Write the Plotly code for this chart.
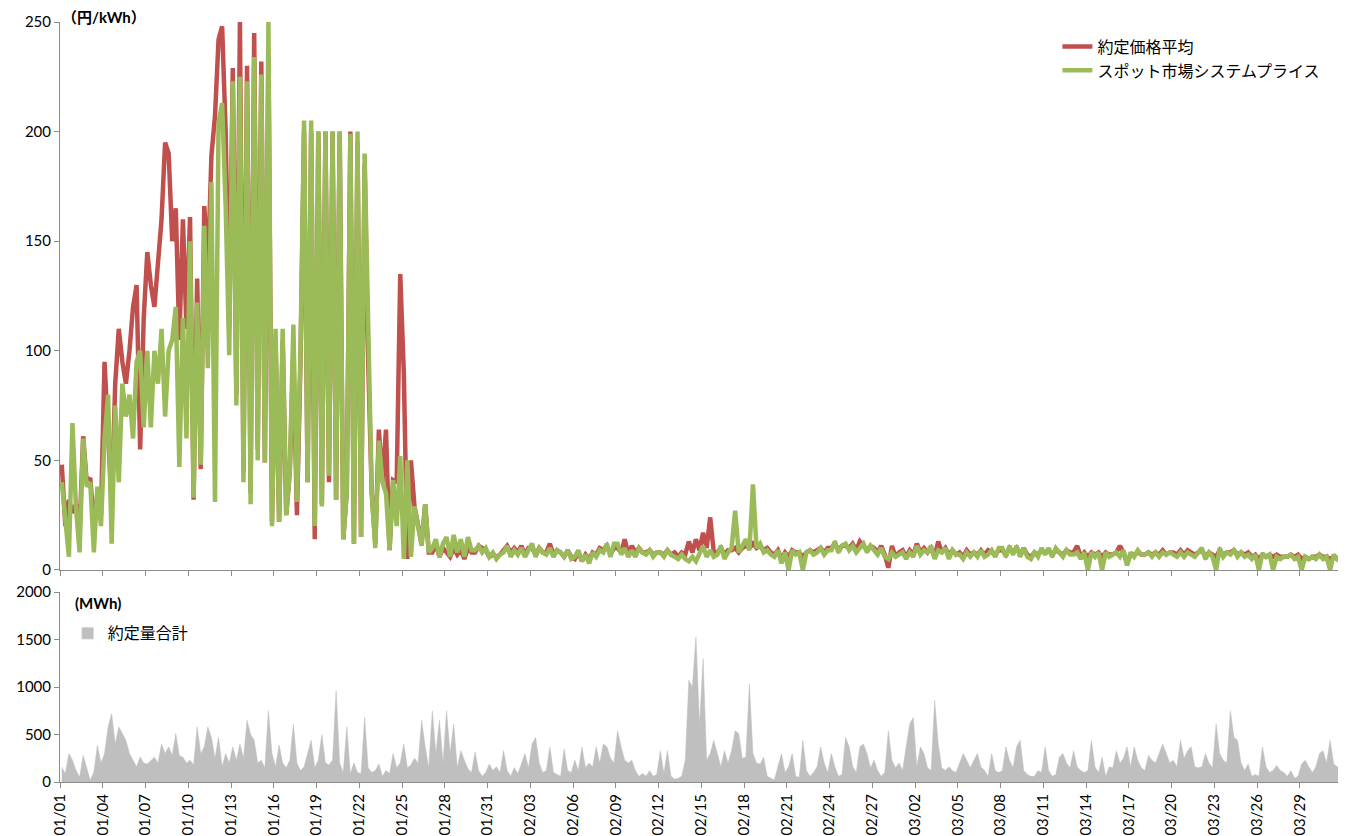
import pandas as pd
import plotly.graph_objects as go
from plotly.subplots import make_subplots

# 4 lectures par jour (0h, 6h, 12h, 18h), 2021-01-01 .. 2021-03-31
price_avg_jan = [
    48, 20, 32, 26,  30, 18, 61, 40,  42, 20, 35, 25,  95, 60, 30, 85,
    110, 95, 85, 100,  120, 130, 55, 115,  145, 130, 120, 140,  160, 195, 190, 150,
    165, 105, 160, 110,  161, 32, 133, 46,  166, 136, 189, 207,  242, 248, 200, 110,
    229, 80, 250, 45,  230, 35, 245, 55,  232, 49, 235, 22,  105, 22, 105, 25,
    45, 100, 25, 95,  200, 40, 200, 14,  200, 30, 200, 40,  200, 32, 200, 14,
    36, 200, 12, 195,  15, 185, 95, 35,  12, 64, 40, 64,  9, 41, 40, 135,
    90, 5, 50, 29,  20, 12, 30, 8,  8, 12, 6, 10,  8, 6, 10, 7,
    9, 5, 10, 8,  8, 11, 10, 9,  6, 7, 6, 7,
]
price_avg_feb = [
    9, 11, 8, 10,  8, 11, 7, 10,  10, 7, 10, 8,  8, 12, 7, 9,
    8, 6, 9, 6,  5, 8, 4, 7,  5, 8, 7, 10,  9, 11, 7, 10,
    10, 8, 14, 7,  11, 8, 10, 8,  8, 9, 7, 8,  8, 7, 9, 7,
    8, 6, 8, 7,  13, 8, 14, 9,  17, 10, 24, 8,  8, 10, 7, 9,
    9, 10, 8, 10,  11, 10, 12, 10,  11, 9, 10, 8,  7, 9, 5, 8,
    6, 9, 8, 8,  6, 8, 9, 8,  9, 10, 8, 10,  10, 12, 9, 11,
    11, 10, 12, 9,  13, 11, 9, 11,  10, 8, 11, 7,  1, 11, 6, 8,
]
price_avg_mar = [
    9, 6, 9, 7,  12, 8, 10, 8,  10, 6, 13, 8,  10, 7, 9, 7,
    8, 6, 9, 7,  8, 7, 9, 7,  9, 8, 7, 9,  9, 7, 10, 8,
    10, 7, 10, 7,  6, 8, 7, 9,  8, 9, 7, 9,  8, 7, 9, 8,
    8, 11, 6, 8,  6, 8, 7, 8,  6, 8, 7, 7,  8, 11, 8, 3,
    7, 7, 8, 7,  7, 8, 7, 8,  7, 9, 7, 8,  8, 7, 9, 7,
    9, 8, 7, 8,  9, 6, 8, 7,  6, 9, 7, 8,  8, 9, 7, 8,
    7, 8, 6, 7,  5, 7, 6, 7,  6, 7, 6, 6,  6, 7, 6, 7,
    5, 6, 5, 6,  6, 7, 6, 6,  5, 6, 5, 6,
]

spot_jan = [
    40, 22, 6, 67,  28, 8, 60, 38,  40, 8, 38, 20,  60, 80, 12, 75,
    40, 85, 70, 80,  60, 95, 100, 65,  100, 65, 100, 85,  110, 70, 100, 105,
    120, 47, 115, 60,  150, 33, 122, 48,  157, 92, 177, 31,  204, 213, 166, 98,
    223, 75, 225, 40,  223, 30, 234, 50,  226, 49, 250, 20,  110, 22, 110, 25,
    45, 112, 31, 100,  205, 40, 205, 20,  200, 29, 200, 43,  200, 32, 200, 14,
    36, 199, 12, 200,  15, 190, 100, 35,  10, 59, 40, 35,  9, 41, 20, 52,
    5, 50, 6, 29,  20, 11, 30, 8,  10, 14, 6, 12,  15, 6, 16, 8,
    14, 6, 15, 9,  9, 11, 8, 10,  6, 8, 5, 7,
]
spot_feb = [
    8, 11, 6, 9,  7, 10, 6, 9,  12, 6, 10, 8,  7, 10, 6, 9,
    8, 6, 9, 5,  6, 9, 4, 7,  3, 8, 6, 9,  8, 12, 6, 12,
    12, 7, 10, 6,  9, 6, 10, 8,  7, 9, 6, 8,  8, 6, 9, 7,
    6, 5, 7, 5,  4, 6, 4, 7,  11, 6, 9, 6,  7, 11, 5, 8,
    10, 27, 8, 11,  14, 9, 39, 10,  12, 8, 9, 7,  6, 9, 3, 8,
    0, 9, 7, 8,  0, 8, 9, 7,  8, 10, 7, 9,  9, 13, 8, 11,
    12, 9, 11, 8,  10, 12, 8, 11,  9, 7, 10, 6,  5, 8, 6, 7,
]
spot_mar = [
    8, 5, 8, 6,  11, 7, 9, 8,  11, 5, 9, 8,  10, 5, 9, 7,
    7, 5, 8, 6,  8, 6, 9, 6,  7, 9, 6, 10,  10, 6, 11, 7,
    11, 6, 10, 6,  5, 8, 6, 10,  7, 10, 6, 10,  8, 6, 9, 7,
    7, 8, 5, 8,  0, 8, 6, 8,  0, 8, 6, 7,  8, 6, 9, 2,
    8, 6, 9, 7,  7, 8, 6, 8,  6, 8, 7, 8,  7, 6, 8, 6,
    8, 7, 6, 8,  10, 5, 8, 6,  0, 10, 6, 8,  7, 9, 6, 8,
    6, 7, 5, 7,  0, 7.6, 6, 7,  0, 6, 5, 6,  6, 7, 5, 6,
    0, 6, 5, 6,  5, 7, 5, 6,  0, 7, 5, 6,
]

volume_jan = [
    158, 88, 300, 230,  123, 50, 280, 150,  18, 105, 386, 200,  300, 580, 720, 400,
    580, 510, 440, 300,  230, 160, 263, 200,  190, 230, 260, 200,  400, 300, 370, 280,
    510, 280, 260, 200,  230, 180, 580, 300,  370, 580, 470, 250,  470, 160, 300, 200,
    370, 230, 400, 250,  650, 500, 440, 200,  230, 150, 750, 300,  160, 390, 200, 150,
    230, 610, 200, 120,  160, 300, 440, 150,  230, 500, 200, 180,  230, 960, 200, 100,
    580, 90, 200, 100,  90, 680, 150, 100,  120, 190, 60, 120,  90, 300, 150, 200,
    400, 150, 180, 250,  200, 650, 370, 150,  750, 300, 650, 200,  750, 300, 610, 150,
    330, 230, 140, 100,  315, 120, 60, 100,  190, 120, 160, 100,
]
volume_feb = [
    330, 120, 60, 150,  90, 190, 300, 150,  400, 470, 200, 100,  120, 370, 100, 80,
    60, 350, 120, 100,  230, 120, 370, 150,  200, 160, 370, 200,  400, 370, 250, 200,
    540, 370, 230, 200,  230, 120, 60, 90,  60, 120, 60, 80,  330, 90, 330, 60,
    30, 40, 60, 230,  1070, 1000, 1530, 600,  1300, 230, 300, 440,  300, 160, 330, 200,
    330, 540, 510, 250,  260, 1030, 300, 200,  190, 260, 60, 40,  20, 160, 300, 100,
    160, 300, 60, 50,  440, 120, 60, 100,  160, 370, 200, 100,  300, 160, 60, 80,
    470, 370, 160, 100,  370, 400, 300, 150,  230, 120, 60, 100,  540, 230, 150, 200,
]
volume_mar = [
    120, 370, 610, 680,  160, 370, 300, 150,  120, 860, 400, 150,  120, 160, 120, 100,
    190, 300, 230, 150,  230, 300, 160, 120,  60, 300, 120, 100,  120, 370, 230, 150,
    370, 440, 120, 80,  60, 60, 120, 100,  370, 120, 60, 80,  260, 300, 200, 150,
    330, 160, 120, 100,  120, 440, 160, 100,  260, 60, 160, 150,  330, 200, 250, 370,
    160, 370, 230, 150,  120, 280, 230, 200,  300, 400, 300, 200,  230, 160, 440, 250,
    330, 370, 160, 150,  160, 300, 200, 150,  610, 300, 230, 200,  750, 470, 440, 200,
    120, 190, 60, 80,  60, 370, 160, 100,  120, 175, 120, 100,  60, 120, 40, 60,
    190, 230, 160, 100,  160, 300, 330, 200,  440, 190, 160, 150,
]

price_avg = price_avg_jan + price_avg_feb + price_avg_mar
spot = spot_jan + spot_feb + spot_mar
volume = volume_jan + volume_feb + volume_mar
x = pd.date_range("2021-01-01 03:00", periods=len(spot), freq="6h")

RED = "#C0504D"
GREEN = "#9BBB59"
GRAY = "#BFBFBF"
AXIS = "#8C8C8C"
FONT = "Lato, 'Noto Sans CJK JP', sans-serif"

fig = make_subplots(rows=2, cols=1, shared_xaxes=False, vertical_spacing=0.03)

fig.add_trace(go.Scatter(x=x, y=price_avg, mode="lines", name="約定価格平均",
                         line=dict(color=RED, width=4.5)), row=1, col=1)
fig.add_trace(go.Scatter(x=x, y=spot, mode="lines", name="スポット市場システムプライス",
                         line=dict(color=GREEN, width=4.5)), row=1, col=1)
# volume as a filled area (dense look), legend entry as a square via an empty bar
fig.add_trace(go.Scatter(x=x, y=volume, mode="lines", fill="tozeroy", fillcolor=GRAY,
                         line=dict(color=GRAY, width=0.5), showlegend=False), row=2, col=1)
fig.add_trace(go.Bar(x=[None], y=[None], name="約定量合計", marker=dict(color=GRAY),
                     legend="legend2"), row=2, col=1)

xcommon = dict(type="date", range=["2021-01-01", "2021-03-31 23:00"], tick0="2021-01-01",
               dtick=3 * 86400000, tickformat="%m/%d", showline=True, linecolor=AXIS,
               linewidth=1, ticks="outside", ticklen=5, tickcolor=AXIS, showgrid=False,
               zeroline=False, automargin=False)
ycommon = dict(showline=True, linecolor=AXIS, linewidth=1, ticks="outside", ticklen=5,
               tickcolor=AXIS, showgrid=False, zeroline=False, automargin=False)

fig.update_xaxes(**xcommon)
fig.update_xaxes(showticklabels=False, row=1, col=1)
fig.update_xaxes(tickangle=-90, row=2, col=1)
fig.update_yaxes(**ycommon)
fig.update_yaxes(range=[0, 250], dtick=50, domain=[0.279, 1], row=1, col=1)
fig.update_yaxes(range=[0, 2000], dtick=500, domain=[0, 0.25], row=2, col=1)

# la page ajoute 8px de marge autour du graphique
fig.update_layout(
    width=1346, height=836,
    margin=dict(l=52, r=12, t=14, b=62),
    plot_bgcolor="white", paper_bgcolor="white",
    font=dict(family=FONT, size=15, color="#000000"),
    showlegend=True,
    legend=dict(x=0.778, y=0.99, xanchor="left", yanchor="top", bgcolor="rgba(0,0,0,0)",
                font=dict(size=16), tracegroupgap=0),
    legend2=dict(x=0.006, y=0.218, xanchor="left", yanchor="top", bgcolor="rgba(0,0,0,0)",
                 font=dict(size=16)),
    annotations=[
        dict(text="<b>（円/kWh）</b>", xref="paper", yref="paper", x=0.0, y=1.006,
             xanchor="left", yanchor="middle", showarrow=False, font=dict(size=15)),
        dict(text="<b>(MWh)</b>", xref="paper", yref="paper", x=0.01, y=0.25,
             xanchor="left", yanchor="top", showarrow=False, font=dict(size=15)),
    ],
)

fig.write_html("out.html")
